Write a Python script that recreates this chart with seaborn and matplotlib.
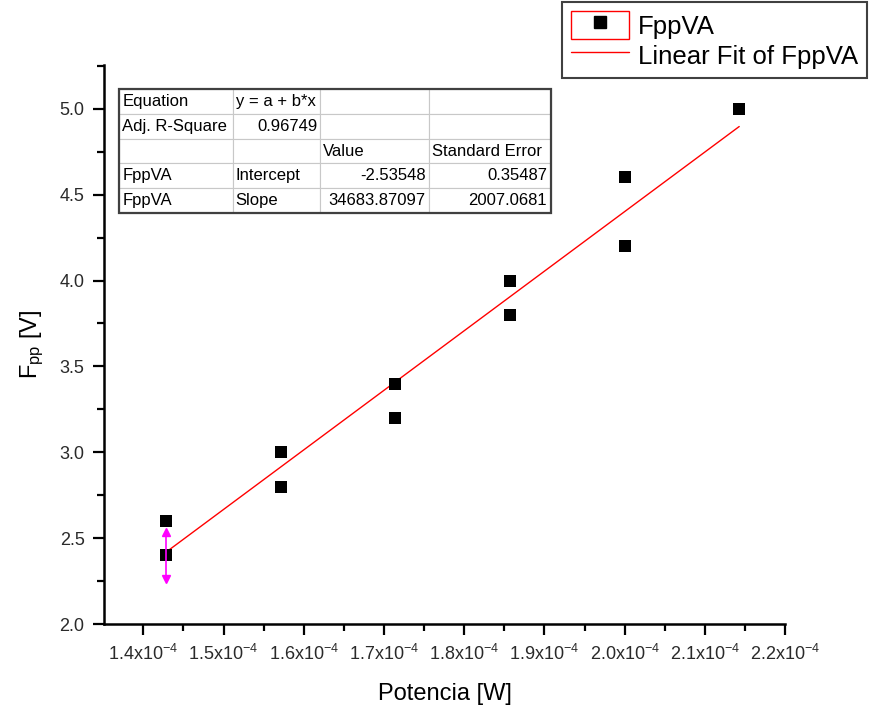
import numpy as np
import pandas as pd
import matplotlib
matplotlib.use('Agg')
import matplotlib.pyplot as plt
import seaborn as sns
from matplotlib.lines import Line2D
from matplotlib.patches import Rectangle
from matplotlib.legend_handler import HandlerTuple
from matplotlib.ticker import MultipleLocator, FixedLocator, FixedFormatter

# ---- data ----
potencia = [1.0/7000, 1.0/7000, 1.1/7000, 1.1/7000, 1.2/7000, 1.2/7000,
            1.3/7000, 1.3/7000, 1.4/7000, 1.4/7000, 1.5/7000]
fpp = [2.6, 2.4, 3.0, 2.8, 3.4, 3.2, 4.0, 3.8, 4.6, 4.2, 5.0]
err_x = [1.0/7000]
err_y = [2.4]
err_size = [0.135]

xticks = [1.4e-4, 1.5e-4, 1.6e-4, 1.7e-4, 1.8e-4, 1.9e-4, 2.0e-4, 2.1e-4, 2.2e-4]
xtick_labels = [r'1.4x10$^{-4}$', r'1.5x10$^{-4}$', r'1.6x10$^{-4}$', r'1.7x10$^{-4}$',
                r'1.8x10$^{-4}$', r'1.9x10$^{-4}$', r'2.0x10$^{-4}$', r'2.1x10$^{-4}$',
                r'2.2x10$^{-4}$']

table_rows = [
    ['Equation', 'y = a + b*x', '', ''],
    ['Adj. R-Square', '0.96749', '', ''],
    ['', '', 'Value', 'Standard Error'],
    ['FppVA', 'Intercept', '-2.53548', '0.35487'],
    ['FppVA', 'Slope', '34683.87097', '2007.0681'],
]

df = pd.DataFrame({'P': potencia, 'F': fpp})

# ---- style ----
sns.set_style('ticks')
plt.rcParams['font.family'] = ['Liberation Sans', 'DejaVu Sans']
plt.rcParams['mathtext.default'] = 'regular'
plt.rcParams['text.color'] = 'black'
plt.rcParams['axes.labelcolor'] = 'black'

fig = plt.figure(figsize=(8.69, 7.08), dpi=100)
ax = fig.add_axes([0.1197, 0.1186, 0.7837, 0.7896])

sns.regplot(data=df, x='P', y='F', scatter=False, ci=None, ax=ax,
            color='red', line_kws={'lw': 1, 'zorder': 2})
sns.scatterplot(data=df, x='P', y='F', marker='s', s=80, color='black',
                edgecolor='black', linewidth=0, ax=ax, zorder=3)

# error bar on first point (magenta, arrow heads)
ax.errorbar(err_x, err_y, yerr=err_size, fmt='none', ecolor='#ff00ff',
            elinewidth=1.2, capsize=0, zorder=4)
ax.plot(err_x, [err_y[0] + err_size[0]], marker='^', color='#ff00ff',
        ms=6, ls='none', zorder=4)
ax.plot(err_x, [err_y[0] - err_size[0]], marker='v', color='#ff00ff',
        ms=6, ls='none', zorder=4)

ax.set_xlim(1.351e-4, 2.2e-4)
ax.set_ylim(2.0, 5.255)
ax.xaxis.set_major_locator(FixedLocator(xticks))
ax.xaxis.set_major_formatter(FixedFormatter(xtick_labels))
ax.xaxis.set_minor_locator(MultipleLocator(0.05e-4))
ax.yaxis.set_major_locator(MultipleLocator(0.5))
ax.yaxis.set_minor_locator(MultipleLocator(0.25))
ax.yaxis.set_major_formatter(matplotlib.ticker.FormatStrFormatter('%.1f'))

sns.despine(ax=ax)
for s in ['left', 'bottom']:
    ax.spines[s].set_linewidth(1.8)
    ax.spines[s].set_color('black')
ax.tick_params(which='major', direction='out', length=8, width=1.6,
               labelsize=13, colors='black', pad=6)
ax.tick_params(which='minor', direction='out', length=5, width=1.6, colors='black')
ax.tick_params(axis='both', labelcolor='#2a2a2a')

ax.set_xlabel('Potencia [W]', fontsize=17, labelpad=14)
ax.set_ylabel(r'F$_{pp}$ [V]', fontsize=17, labelpad=10)

# ---- fit table ----
tbl = ax.table(cellText=table_rows, bbox=[0.022, 0.735, 0.634, 0.222],
               colWidths=[114, 87, 109, 122], zorder=5)
tbl.auto_set_font_size(False)
tbl.set_fontsize(12)
right_cells = {(1, 1), (3, 2), (3, 3), (4, 2), (4, 3)}
for (r, c), cell in tbl.get_celld().items():
    cell.set_edgecolor('#c8c8c8')
    cell.set_linewidth(0.8)
    cell.set_facecolor('white')
    cell.PAD = 0.03
    cell.get_text().set_ha('right' if (r, c) in right_cells else 'left')
    cell._loc = 'right' if (r, c) in right_cells else 'left'
frame = Rectangle((0.022, 0.735), 0.634, 0.222, transform=ax.transAxes,
                  fill=False, edgecolor='#404040', lw=1.6, zorder=6)
ax.add_patch(frame)

# ---- legend ----
h_pts = (Rectangle((0, 0), 1, 1, facecolor='white', edgecolor='red', lw=1),
         Line2D([], [], marker='s', color='black', ls='none', ms=8))
h_fit = Line2D([], [], color='red', lw=1)
leg = fig.legend([h_pts, h_fit], ['FppVA', 'Linear Fit of FppVA'],
                 handler_map={tuple: HandlerTuple(ndivide=1)},
                 loc='upper left', bbox_to_anchor=(562 / 869, 1 - 2 / 708),
                 fontsize=18.5, fancybox=False, framealpha=1, edgecolor='#404040',
                 borderpad=0.35, handlelength=2.25, handleheight=1.3,
                 handletextpad=0.35, labelspacing=0.08, borderaxespad=0)
leg.get_frame().set_linewidth(1.5)

fig.savefig('out.png', dpi=100)
